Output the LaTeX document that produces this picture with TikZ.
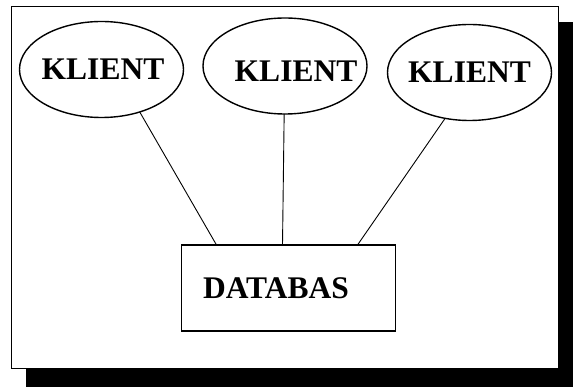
\documentclass[tikz,border=0pt]{standalone}
\usepackage{fontspec}
\setmainfont{Liberation Serif}
\usetikzlibrary{shapes.geometric}
\begin{document}
\begin{tikzpicture}[x=1pt,y=-1pt,
  lbl/.style={font=\bfseries\fontsize{31.5}{36}\selectfont,inner sep=0pt},
  client/.style={ellipse,draw,line width=1.4pt,minimum width=164pt,minimum height=96pt,inner sep=0pt,outer sep=0pt},
  dbbox/.style={rectangle,draw,line width=1.4pt,minimum width=214pt,minimum height=86pt,inner sep=0pt,outer sep=0pt,lbl},
  conn/.style={line width=0.9pt}]
\useasboundingbox (0,0) rectangle (573,387);
\fill[black] (26,22) rectangle (573,387);
\draw[fill=white,line width=1pt] (11,7) rectangle (558,368);
\node[client,label={[lbl,xshift=1.5pt]center:KLIENT}] (k1) at (101.5,69.5) {};
\node[client,label={[lbl,xshift=11pt,yshift=-5pt]center:KLIENT}] (k2) at (285,66) {};
\node[client,label={[lbl]center:KLIENT}] (k3) at (469.5,72.5) {};
\node[dbbox] (db) at (288.5,288) {DATABAS\hspace*{25pt}};
\draw[conn] (k1.-48) -- ([xshift=35pt]db.north west);
\draw[conn] (k2.-91) -- ([xshift=101pt]db.north west);
\draw[conn] (k3.-118) -- ([xshift=176pt]db.north west);
\end{tikzpicture}
\end{document}
